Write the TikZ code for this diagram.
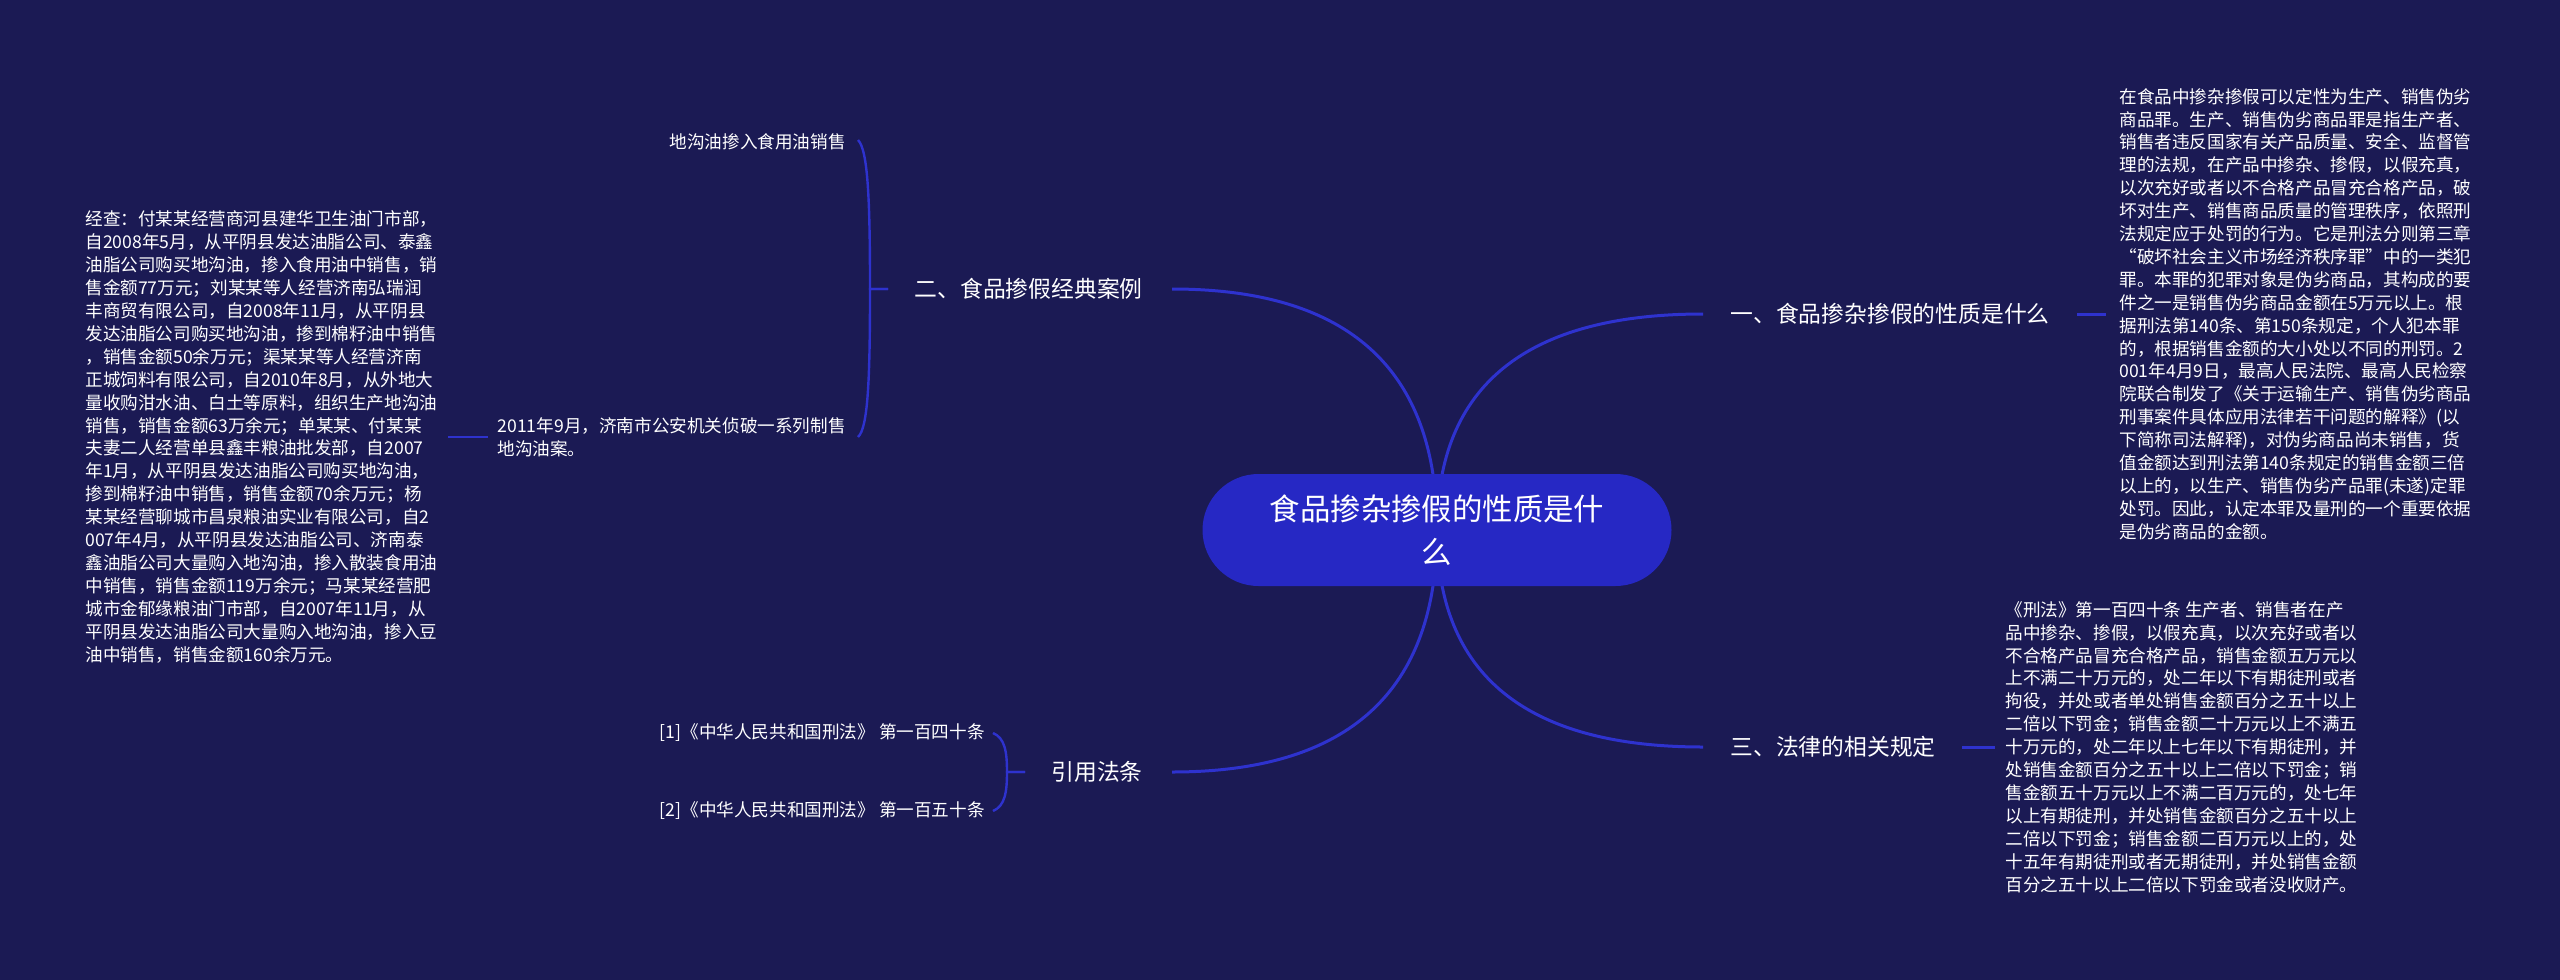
\documentclass[tikz,border=0pt]{standalone}
\usepackage{fontspec}
\setmainfont{Noto Sans CJK SC}
\usetikzlibrary{backgrounds}
\definecolor{bgc}{RGB}{27,26,84}
\definecolor{lnc}{RGB}{46,50,206}
\definecolor{ctrc}{RGB}{38,40,196}
\begin{document}
\begin{tikzpicture}[x=0.5pt,y=-0.5pt,
  conn/.style={draw=lnc, line width=1.5pt},
  brk/.style={draw=lnc, line width=1.2pt},
  rootbox/.style={fill=ctrc, text=white, rounded corners=28pt, minimum width=234.5pt, minimum height=56pt, align=center, inner sep=0, font=\fontsize{15.2pt}{21.5pt}\selectfont},
  branch/.style={text=white, inner sep=0, font=\fontsize{11.4pt}{13pt}\selectfont},
  leaf/.style={text=white, inner sep=0, align=left, font=\fontsize{8.8pt}{11.45pt}\selectfont},
  leafr/.style={text=white, inner sep=0, align=right, font=\fontsize{8.8pt}{11.45pt}\selectfont}]
\useasboundingbox (0,0) rectangle (2560,980);

% root
\node[rootbox] (root) at (1437,530) {食品掺杂掺假的性质是什\\么};

% branches
\node[branch, anchor=west] (b1) at (1730,314) {一、食品掺杂掺假的性质是什么};
\node[branch, anchor=east] (b2) at (1143,289) {二、食品掺假经典案例};
\node[branch, anchor=west] (b3) at (1730,747) {三、法律的相关规定};
\node[branch, anchor=east] (b4) at (1143,772) {引用法条};

% leaves of branch 1
\node[leaf, anchor=west] (blk1) at (2119,314) {在食品中掺杂掺假可以定性为生产、销售伪劣\\
商品罪。生产、销售伪劣商品罪是指生产者、\\
销售者违反国家有关产品质量、安全、监督管\\
理的法规，在产品中掺杂、掺假，以假充真，\\
以次充好或者以不合格产品冒充合格产品，破\\
坏对生产、销售商品质量的管理秩序，依照刑\\
法规定应于处罚的行为。它是刑法分则第三章\\
“破坏社会主义市场经济秩序罪”中的一类犯\\
罪。本罪的犯罪对象是伪劣商品，其构成的要\\
件之一是销售伪劣商品金额在5万元以上。根\\
据刑法第140条、第150条规定，个人犯本罪\\
的，根据销售金额的大小处以不同的刑罚。2\\
001年4月9日，最高人民法院、最高人民检察\\
院联合制发了《关于运输生产、销售伪劣商品\\
刑事案件具体应用法律若干问题的解释》(以\\
下简称司法解释)，对伪劣商品尚未销售，货\\
值金额达到刑法第140条规定的销售金额三倍\\
以上的，以生产、销售伪劣产品罪(未遂)定罪\\
处罚。因此，认定本罪及量刑的一个重要依据\\
是伪劣商品的金额。};

% leaves of branch 3
\node[leaf, anchor=west] (blk3) at (2005,747) {《刑法》第一百四十条 生产者、销售者在产\\
品中掺杂、掺假，以假充真，以次充好或者以\\
不合格产品冒充合格产品，销售金额五万元以\\
上不满二十万元的，处二年以下有期徒刑或者\\
拘役，并处或者单处销售金额百分之五十以上\\
二倍以下罚金；销售金额二十万元以上不满五\\
十万元的，处二年以上七年以下有期徒刑，并\\
处销售金额百分之五十以上二倍以下罚金；销\\
售金额五十万元以上不满二百万元的，处七年\\
以上有期徒刑，并处销售金额百分之五十以上\\
二倍以下罚金；销售金额二百万元以上的，处\\
十五年有期徒刑或者无期徒刑，并处销售金额\\
百分之五十以上二倍以下罚金或者没收财产。};

% leaves of branch 2
\node[leafr, anchor=east] (k1) at (846,142) {地沟油掺入食用油销售};
\node[leaf, anchor=east] (k2) at (846,437) {2011年9月，济南市公安机关侦破一系列制售\\地沟油案。};
\node[leaf, anchor=west] (lb) at (85,437) {经查：付某某经营商河县建华卫生油门市部，\\
自2008年5月，从平阴县发达油脂公司、泰鑫\\
油脂公司购买地沟油，掺入食用油中销售，销\\
售金额77万元；刘某某等人经营济南弘瑞润\\
丰商贸有限公司，自2008年11月，从平阴县\\
发达油脂公司购买地沟油，掺到棉籽油中销售\\
，销售金额50余万元；渠某某等人经营济南\\
正城饲料有限公司，自2010年8月，从外地大\\
量收购泔水油、白土等原料，组织生产地沟油\\
销售，销售金额63万余元；单某某、付某某\\
夫妻二人经营单县鑫丰粮油批发部，自2007\\
年1月，从平阴县发达油脂公司购买地沟油，\\
掺到棉籽油中销售，销售金额70余万元；杨\\
某某经营聊城市昌泉粮油实业有限公司，自2\\
007年4月，从平阴县发达油脂公司、济南泰\\
鑫油脂公司大量购入地沟油，掺入散装食用油\\
中销售，销售金额119万余元；马某某经营肥\\
城市金郁缘粮油门市部，自2007年11月，从\\
平阴县发达油脂公司大量购入地沟油，掺入豆\\
油中销售，销售金额160余万元。};

% leaves of branch 4
\node[leafr, anchor=east] (r1) at (985,733) {[1]《中华人民共和国刑法》 第一百四十条};
\node[leafr, anchor=east] (r2) at (985,811) {[2]《中华人民共和国刑法》 第一百五十条};

% junction coordinates
\coordinate (e1) at (1703,314);
\coordinate (e2) at (1172,289);
\coordinate (e3) at (1703,747);
\coordinate (e4) at (1172,772);
\coordinate (j2) at (888,289);
\coordinate (v2) at (870,289);
\coordinate (j4) at (1025,772);
\coordinate (v4) at (1007,772);

\begin{scope}[on background layer]
\fill[bgc] (0,0) rectangle (2560,980);
% root to branches (quadratic curves written as cubics)
\draw[conn] (root.center) .. controls (1437,386) and (1525.7,314) .. (e1);
\draw[conn] (root.center) .. controls (1437,369.3) and (1348.7,289) .. (e2);
\draw[conn] (root.center) .. controls (1437,674.7) and (1525.7,747) .. (e3);
\draw[conn] (root.center) .. controls (1437,691.3) and (1348.7,772) .. (e4);
% branch 1 and 3 to their text
\draw[conn] ([xshift=13.5pt]b1.east) -- ([xshift=-6.5pt]blk1.west);
\draw[conn] ([xshift=13pt]b3.east) -- ([xshift=-5pt]blk3.west);
% branch 2 bracket
\draw[brk] (j2) -- (v2) .. controls (870,200) and (868,150) .. ([xshift=6pt,yshift=1pt]k1.east);
\draw[brk] (j2) -- (v2) .. controls (870,380) and (868,428) .. ([xshift=6pt]k2.east);
\draw[brk] ([xshift=5pt]lb.east) -- ([xshift=-4.5pt]k2.west);
% branch 4 bracket
\draw[brk] (j4) -- (v4) .. controls (1007,752) and (1005,738) .. ([xshift=4pt]r1.east);
\draw[brk] (j4) -- (v4) .. controls (1007,792) and (1005,806) .. ([xshift=4pt]r2.east);
\end{scope}
\end{tikzpicture}
\end{document}
